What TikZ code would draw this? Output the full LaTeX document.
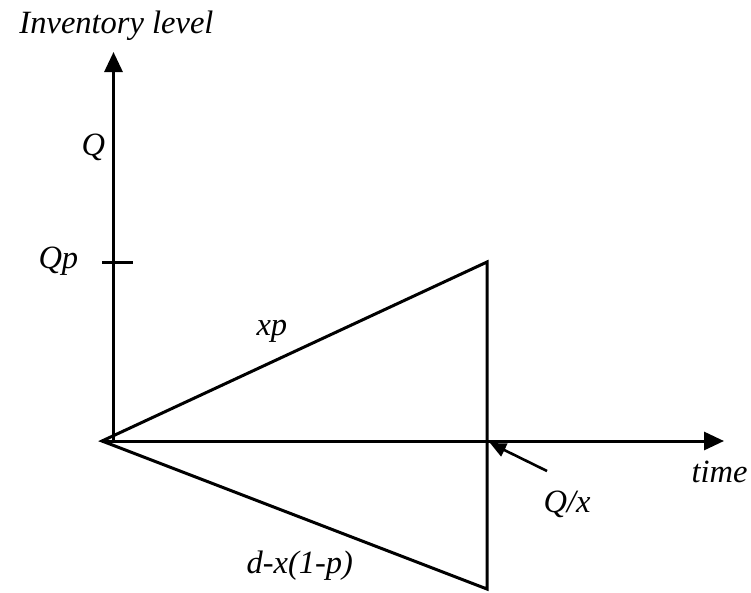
\documentclass[tikz,border=0pt]{standalone}
\usepackage{fontspec}
\setmainfont{Liberation Serif}
\usetikzlibrary{arrows.meta}

\begin{document}
\begin{tikzpicture}[x=1pt,y=-1pt,line width=3pt,
  font=\itshape\fontsize{32.5}{38}\selectfont,
  lbl/.style={anchor=base west,inner sep=0pt},
  axis/.style={-{Triangle[length=20pt,width=18pt]}}]
\useasboundingbox (0,0) rectangle (751,592);
\coordinate (O) at (102,441);
\coordinate (yaxis) at (113.5,441);
\coordinate (ytop) at (113.5,52);
\coordinate (xend) at (724,441);
\coordinate (peak) at (487,262);
\coordinate (low) at (487,589);
\coordinate (tickL) at (102,262);
\coordinate (tickR) at (133,262);
\coordinate (ptrtail) at (547,471);
\coordinate (ptrtip) at (490,443);
\draw[axis] (O)--(xend);
\draw[axis] (yaxis)--(ytop);
\draw (tickL)--(tickR);
\draw[line join=miter] (O)--(peak)--(low)--cycle;
\draw[-{Triangle[length=16pt,width=14pt]},line width=2.6pt] (ptrtail)--(ptrtip);
\node[lbl] (ylabel) at (18,33) {Inventory level};
\node[lbl] (qlabel) at (80,155) {Q};
\node[lbl] (qplabel) at (37,268) {Qp};
\node[lbl] (xplabel) at (255,335) {xp};
\node[lbl] (tlabel) at (690,482) {time};
\node[lbl] (qxlabel) at (542,512) {Q/x};
\node[lbl] (dlabel) at (245,573) {d-x(1-p)};
\end{tikzpicture}
\end{document}
